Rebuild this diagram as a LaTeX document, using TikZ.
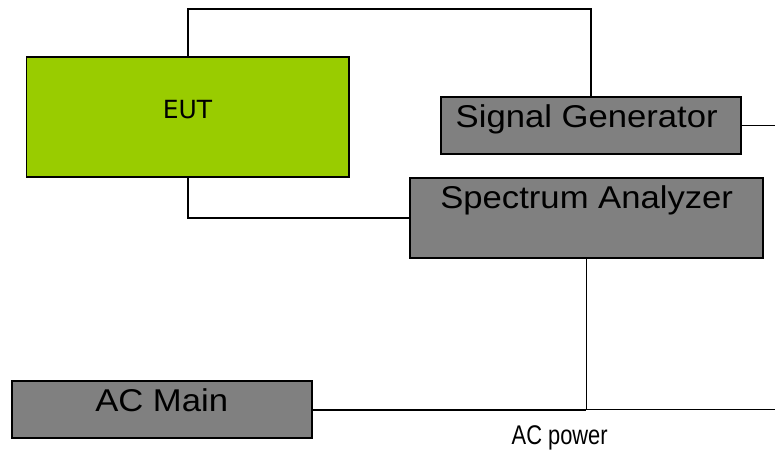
\documentclass[tikz,border=0pt]{standalone}
\usepackage{fontspec}
\usetikzlibrary{calc}
\newfontfamily\boxfont{Liberation Sans}[FakeStretch=1.1]
\newfontfamily\eutfont{DejaVu Sans}
\newfontfamily\powerfont{Liberation Sans}[FakeStretch=0.81]
\definecolor{eutgreen}{HTML}{99CC00}
\definecolor{devgray}{HTML}{808080}

\begin{document}
\begin{tikzpicture}[x=1pt,y=-1pt,line width=1.7pt,
    devbox/.style={draw=black, fill=devgray, inner sep=0pt},
    eutbox/.style={draw=black, fill=eutgreen, inner sep=0pt},
    boxtext/.style={inner sep=0pt, anchor=base, font=\boxfont\fontsize{31.5}{38}\selectfont},
    wire/.style={draw=black, line width=1.6pt}]

\path[use as bounding box, clip] (0,0) rectangle (775,450);

% Boxes
\node[eutbox, minimum width=322.7pt, minimum height=120.6pt] (eut) at (187.7,117) {};
\node[devbox, minimum width=300pt, minimum height=57.3pt] (sg) at (590.7,125.3) {};
\node[devbox, minimum width=352.7pt, minimum height=80.3pt] (sa) at (586.3,217.8) {};
\node[devbox, minimum width=300.6pt, minimum height=57.6pt] (acm) at (162,409.5) {};

% Box texts
\node[inner sep=0pt, anchor=base, font=\eutfont\fontsize{25}{30}\selectfont] (euttext) at (187.5,118.3) {EUT};
\node[boxtext] (sgtext) at (586.7,127) {Signal Generator};
\node[boxtext] (satext) at (586.7,208.3) {Spectrum Analyzer};
\node[boxtext] (acmtext) at (161.7,411.5) {AC Main};

% Connections
\coordinate (top) at (0,9);
\coordinate (rim) at (775,0);
\draw[wire] (eut.north) -- (eut.north |- top) -| (sg.north);
\draw[wire] (sg.east) -- (sg.east -| rim);
\draw[wire] (eut.south) |- (sa.west);
\draw[wire] (sa.south) -- (sa.south |- acm.east) coordinate (junction);
\draw[wire, line width=2pt] (acm.east) -- (junction);
\draw[wire] (junction) -- (acm.east -| rim);

% Power label
\node[inner sep=0pt, anchor=base, font=\powerfont\fontsize{27}{32}\selectfont] (acpower) at (559.7,444.5) {AC power};

\end{tikzpicture}
\end{document}
